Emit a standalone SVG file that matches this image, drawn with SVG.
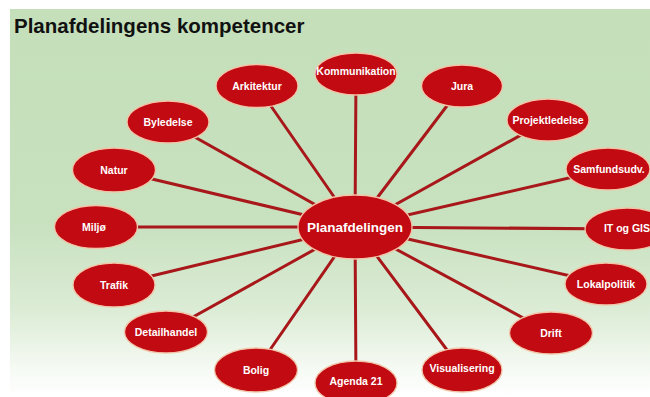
<svg xmlns="http://www.w3.org/2000/svg" width="650" height="397" viewBox="0 0 650 397">
<defs>
<linearGradient id="bg" x1="0" y1="9" x2="0" y2="397" gradientUnits="userSpaceOnUse">
<stop offset="0" stop-color="#c4dfba"/>
<stop offset="0.55" stop-color="#c8e1bf"/>
<stop offset="0.78" stop-color="#dcecd6"/>
<stop offset="0.93" stop-color="#f6faf4"/>
<stop offset="1" stop-color="#ffffff"/>
</linearGradient>
<style>
.n ellipse{fill:#c10a12;stroke:#f2c4a8;stroke-width:1.3}
.n text{fill:#ffffff;font-family:"Liberation Sans",Arial,sans-serif;font-weight:bold;font-size:10.5px;text-anchor:middle}
#connectors line{stroke:#a8171a;stroke-width:3;stroke-linecap:round}
.title{font-family:"Liberation Sans",Arial,sans-serif;font-weight:bold;font-size:20.5px;fill:#111}
</style>
</defs>
<rect x="0" y="0" width="650" height="397" fill="#ffffff"/>
<rect x="10" y="9" width="640" height="388" fill="url(#bg)"/>
<text class="title" x="14" y="33">Planafdelingens kompetencer</text>
<g id="connectors">
<line x1="355" y1="227" x2="257" y2="86"/>
<line x1="355" y1="227" x2="356" y2="74"/>
<line x1="355" y1="227" x2="462" y2="86"/>
<line x1="355" y1="227" x2="548" y2="120"/>
<line x1="355" y1="227" x2="608" y2="169"/>
<line x1="355" y1="227" x2="627" y2="229"/>
<line x1="355" y1="227" x2="606" y2="284"/>
<line x1="355" y1="227" x2="551" y2="333"/>
<line x1="355" y1="227" x2="462" y2="370"/>
<line x1="355" y1="227" x2="356" y2="383"/>
<line x1="355" y1="227" x2="256" y2="370"/>
<line x1="355" y1="227" x2="166" y2="332"/>
<line x1="355" y1="227" x2="114" y2="285"/>
<line x1="355" y1="227" x2="96" y2="227"/>
<line x1="355" y1="227" x2="114" y2="170"/>
<line x1="355" y1="227" x2="168" y2="122"/>
</g>
<g id="arkitektur" class="n"><ellipse cx="257" cy="86" rx="41" ry="21.5"/><text x="257" y="89.5">Arkitektur</text></g>
<g id="kommunikation" class="n"><ellipse cx="356" cy="74" rx="41" ry="21"/><text x="356" y="75">Kommunikation</text></g>
<g id="jura" class="n"><ellipse cx="462" cy="86" rx="40.5" ry="21"/><text x="462" y="89.5">Jura</text></g>
<g id="projektledelse" class="n"><ellipse cx="548" cy="120" rx="41" ry="21"/><text x="548" y="123.5">Projektledelse</text></g>
<g id="samfundsudv" class="n"><ellipse cx="608" cy="169" rx="42" ry="21"/><text x="609" y="172.5">Samfundsudv.</text></g>
<g id="itoggis" class="n"><ellipse cx="627" cy="229" rx="42" ry="21"/><text x="627" y="232">IT og GIS</text></g>
<g id="lokalpolitik" class="n"><ellipse cx="606" cy="284" rx="41" ry="21"/><text x="606" y="287.5">Lokalpolitik</text></g>
<g id="drift" class="n"><ellipse cx="551" cy="333" rx="41.5" ry="21"/><text x="551" y="336.5">Drift</text></g>
<g id="visualisering" class="n"><ellipse cx="462" cy="370" rx="40" ry="22"/><text x="462" y="372">Visualisering</text></g>
<g id="agenda21" class="n"><ellipse cx="356" cy="383" rx="41" ry="22"/><text x="356" y="385">Agenda 21</text></g>
<g id="bolig" class="n"><ellipse cx="256" cy="370" rx="41.5" ry="22"/><text x="256" y="373.5">Bolig</text></g>
<g id="detailhandel" class="n"><ellipse cx="166" cy="332" rx="41.5" ry="21"/><text x="166" y="335.5">Detailhandel</text></g>
<g id="trafik" class="n"><ellipse cx="114" cy="285" rx="41" ry="22"/><text x="114" y="288.5">Trafik</text></g>
<g id="miljo" class="n"><ellipse cx="96" cy="227" rx="41.5" ry="21.5"/><text x="94" y="230.5">Miljø</text></g>
<g id="natur" class="n"><ellipse cx="114" cy="170" rx="41.5" ry="22"/><text x="114" y="173.5">Natur</text></g>
<g id="byledelse" class="n"><ellipse cx="168" cy="122" rx="41" ry="21"/><text x="168" y="125.5">Byledelse</text></g>
<g id="planafdelingen" class="n"><ellipse cx="355" cy="227" rx="57" ry="32"/><text x="355" y="232" style="font-size:13.5px">Planafdelingen</text></g>
</svg>
